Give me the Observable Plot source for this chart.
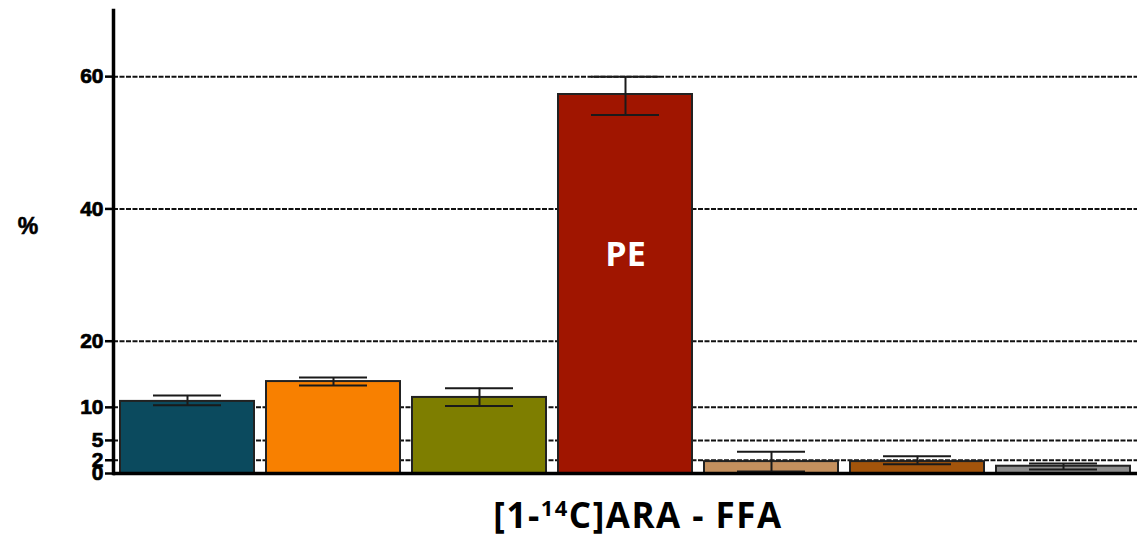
<!DOCTYPE html>
<html>
<head>
<meta charset="utf-8">
<script src="https://cdn.jsdelivr.net/npm/d3@7"></script>
<script src="https://cdn.jsdelivr.net/npm/@observablehq/plot@0.6"></script>
<style>
  body { margin: 0; background: #fff; }
  #chart svg { display: block; }
  /* heavier, condensed tick numerals */
  #chart g[aria-label="y-axis tick label"] text { stroke: #000; stroke-width: 0.7px; }
</style>
</head>
<body>
<div id="chart"></div>
<script>
// Lipid fractions labelled with [1-14C]ARA (percent of total label)
const categories = ["F1", "F2", "F3", "PE", "F5", "F6", "F7"];
const values     = [10.9, 13.9, 11.5, 57.3, 1.8, 1.8, 1.1];
const errLow     = [10.3, 13.3, 10.2, 54.2, 0.3, 1.4, 0.6];
const errHigh    = [11.8, 14.5, 12.9, 60.0, 3.3, 2.6, 1.5];
const barColors  = ["#0b4a5e", "#f88000", "#7e7e00", "#a01500", "#c4905e", "#a3540b", "#8c8c8c"];
const barLabels  = ["", "", "", "PE", "", "", ""];
const yTicks     = [0, 2, 5, 10, 20, 40, 60];
const gridLevels = [2, 5, 10, 20, 40, 60];

const data = categories.map((c, i) => ({
  cat: c, value: values[i], lo: errLow[i], hi: errHigh[i],
  color: barColors[i], label: barLabels[i]
}));

const plot = Plot.plot({
  width: 1137,
  height: 543,
  marginLeft: 113,
  marginRight: 0,
  marginTop: 10,
  marginBottom: 70,
  style: { fontFamily: "'Liberation Sans Narrow', 'Liberation Sans', Arial, sans-serif", background: "#fff" },
  x: { domain: categories, paddingInner: 0.085, paddingOuter: 0.04, axis: null },
  y: { domain: [0, 70], axis: null },
  color: { type: "identity" },
  marks: [
    Plot.ruleY(gridLevels, { stroke: "#111", strokeWidth: 2, strokeDasharray: "5,1.5" }),
    Plot.barY(data, { x: "cat", y: "value", fill: "color", stroke: "#222", strokeWidth: 2 }),
    Plot.ruleX(data, { x: "cat", y1: "lo", y2: "hi", stroke: "#1a1a1a", strokeWidth: 2 }),
    Plot.tickY(data, { x: "cat", y: "hi", stroke: "#1a1a1a", strokeWidth: 2, insetLeft: 33, insetRight: 33 }),
    Plot.tickY(data, { x: "cat", y: "lo", stroke: "#1a1a1a", strokeWidth: 2, insetLeft: 33, insetRight: 33 }),
    Plot.text(data, {
      x: "cat", y: d => d.value * 0.575, text: "label",
      fill: "#fff", fontSize: 34, fontWeight: "bold",
      fontFamily: "'Open Sans', 'Noto Sans', sans-serif"
    }),
    Plot.axisY({
      ticks: yTicks, tickSize: 8, tickPadding: 2, strokeWidth: 2.5,
      fontSize: 21, fontWeight: "bold", label: null
    }),
    Plot.frame({ anchor: "left", strokeWidth: 3.5, stroke: "#000" }),
    Plot.ruleY([0], { stroke: "#000", strokeWidth: 3.5 })
  ]
});

document.getElementById("chart").appendChild(plot);

const svg = d3.select(plot);

// y-axis unit label
svg.append("text")
  .attr("x", 28).attr("y", 228)
  .attr("text-anchor", "middle").attr("dominant-baseline", "middle")
  .attr("font-family", "'Liberation Sans', Arial, sans-serif")
  .attr("font-weight", "bold").attr("font-size", 23)
  .attr("stroke", "#000").attr("stroke-width", 0.6)
  .text("%");

// x-axis title with superscript isotope number
const title = svg.append("text")
  .attr("x", 638).attr("y", 528)
  .attr("text-anchor", "middle")
  .attr("font-family", "'Open Sans', 'Noto Sans', sans-serif")
  .attr("font-weight", "bold").attr("font-size", 35)
  .attr("letter-spacing", 1.5)
  .attr("fill", "#000");
title.append("tspan").text("[1-");
title.append("tspan").attr("font-size", 22).attr("dy", -12).text("14");
title.append("tspan").attr("dy", 12).text("C]ARA - FFA");
</script>
</body>
</html>
